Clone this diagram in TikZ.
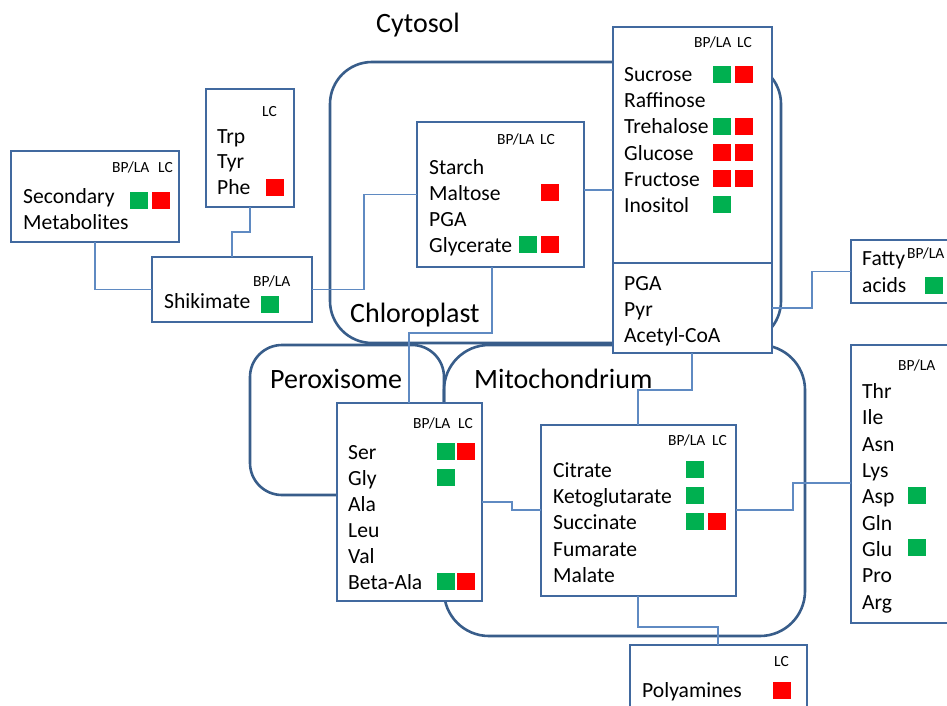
\documentclass[tikz,border=0pt]{standalone}
\usepackage{fontspec}
\setmainfont{Carlito}
\definecolor{boxc}{HTML}{41699F}
\definecolor{compc}{HTML}{385D8A}
\definecolor{connc}{HTML}{5F8AC2}
\definecolor{gr}{HTML}{00B050}
\definecolor{rd}{HTML}{FF0000}
\begin{document}
\begin{tikzpicture}[x=1pt,y=-1pt,
  comp/.style={draw=compc,line width=2.6pt,anchor=north west,inner sep=0,outer sep=0},
  box/.style={draw=boxc,line width=1.3pt,fill=white,anchor=north west,inner sep=0,outer sep=0},
  conn/.style={draw=connc,line width=1.1pt},
  itm/.style={anchor=base west,inner sep=0,font=\fontsize{21.6}{21.6}\selectfont},
  hdr/.style={anchor=base west,inner sep=0,font=\fontsize{15.5}{15.5}\selectfont},
  ttl/.style={anchor=base west,inner sep=0,font=\fontsize{28}{28}\selectfont},
  sqg/.style={fill=gr,draw=none,minimum width=18pt,minimum height=17pt,inner sep=0,anchor=south west},
  sqr/.style={fill=rd,draw=none,minimum width=18pt,minimum height=17pt,inner sep=0,anchor=south west}]
\clip (0,0) rectangle (947,706);
\fill[white] (0,0) rectangle (947,706);
% compartments
\node[comp,rounded corners=42pt,minimum width=451pt,minimum height=281pt] (chl) at (330,62) {};
\node[comp,rounded corners=32pt,minimum width=194pt,minimum height=150pt] (per) at (250,345) {};
\node[comp,rounded corners=45pt,minimum width=361pt,minimum height=291pt] (mit) at (444,345) {};
% boxes
\node[box,minimum width=168pt,minimum height=91pt] (secm) at (11,151) {};
\node[box,minimum width=88pt,minimum height=118pt] (trp) at (206,89) {};
\node[box,minimum width=160pt,minimum height=65pt] (shik) at (152,257) {};
\node[box,minimum width=167pt,minimum height=145pt] (starch) at (417,122) {};
\node[box,minimum width=159pt,minimum height=236pt] (suc) at (613,27) {};
\node[box,minimum width=159pt,minimum height=90pt] (pga) at (613,263) {};
\node[box,minimum width=150pt,minimum height=63pt] (fat) at (851,240) {};
\node[box,minimum width=150pt,minimum height=278pt] (amino) at (851,345) {};
\node[box,minimum width=145pt,minimum height=198pt] (ser) at (337,403) {};
\node[box,minimum width=195pt,minimum height=171pt] (cit) at (541,425) {};
\node[box,minimum width=177pt,minimum height=100pt] (poly) at (630,645) {};
% connectors
\draw[conn] (secm.south -| 95,0) |- (shik.west);
\draw[conn] (trp.south -| 250,0) |- (232,232) -- (shik.north -| 232,0);
\draw[conn] (shik.east) -| (364,0 |- starch.west) -- (starch.west);
\draw[conn] (starch.east |- 0,190) -- (suc.west |- 0,190);
\draw[conn] (starch.south -| 492,0) |- (409,333) -- (ser.north -| 409,0);
\draw[conn] (pga.south -| 692,0) |- (638,390) -- (cit.north -| 638,0);
\draw[conn] (pga.east |- 0,308) -| (812,0 |- fat.west) -- (fat.west);
\draw[conn] (ser.east |- 0,502) -| (512,510) -- (cit.west |- 0,510);
\draw[conn] (cit.east |- 0,510) -| (793,483) -- (amino.west |- 0,483);
\draw[conn] (cit.south -| 638,0) |- (718,627) -- (poly.north -| 718,0);
% titles
\node[ttl,anchor=base] (tcyt) at (418,33) {Cytosol};
\node[ttl] (tchl) at (350,322) {Chloroplast};
\node[ttl] (tper) at (270,388) {Peroxisome};
\node[ttl] (tmit) at (474,388) {Mitochondrium};
% secondary metabolites
\node[hdr] (h1a) at (112,172) {BP/LA};
\node[hdr] (h1b) at (158,172) {LC};
\node[itm] (t1a) at (23,203) {Secondary};
\node[itm] (t1b) at (23,229) {Metabolites};
\node[sqg] (s1a) at (130,209) {};
\node[sqr] (s1b) at (152,209) {};
% trp
\node[hdr] (h2) at (262,117) {LC};
\node[itm] (t2a) at (217,143) {Trp};
\node[itm] (t2b) at (217,168) {Tyr};
\node[itm] (t2c) at (217,194) {Phe};
\node[sqr] (s2) at (266,196) {};
% shikimate
\node[hdr] (h3) at (253,286) {BP/LA};
\node[itm] (t3) at (164,308) {Shikimate};
\node[sqg] (s3) at (261,313) {};
% starch
\node[hdr] (h4a) at (497,144) {BP/LA};
\node[hdr] (h4b) at (540,144) {LC};
\node[itm] (t4a) at (429,174) {Starch};
\node[itm] (t4b) at (429,200) {Maltose};
\node[itm] (t4c) at (429,226) {PGA};
\node[itm] (t4d) at (429,252) {Glycerate};
\node[sqr] (s4a) at (541,201) {};
\node[sqg] (s4b) at (519,253) {};
\node[sqr] (s4c) at (541,253) {};
% sucrose
\node[hdr] (h5a) at (694,48) {BP/LA};
\node[hdr] (h5b) at (737,48) {LC};
\node[itm] (t5a) at (624,82) {Sucrose};
\node[itm] (t5b) at (624,108) {Raffinose};
\node[itm] (t5c) at (624,134) {Trehalose};
\node[itm] (t5d) at (624,160) {Glucose};
\node[itm] (t5e) at (624,186) {Fructose};
\node[itm] (t5f) at (624,212) {Inositol};
\node[sqg] (s5a) at (713,83) {};
\node[sqr] (s5b) at (735,83) {};
\node[sqg] (s5c) at (713,135) {};
\node[sqr] (s5d) at (735,135) {};
\node[sqr] (s5e) at (713,161) {};
\node[sqr] (s5f) at (735,161) {};
\node[sqr] (s5g) at (713,187) {};
\node[sqr] (s5h) at (735,187) {};
\node[sqg] (s5i) at (713,213) {};
\node[itm] (t6a) at (624,290) {PGA};
\node[itm] (t6b) at (624,316) {Pyr};
\node[itm] (t6c) at (624,342) {Acetyl-CoA};
% fatty acids
\node[hdr] (h7) at (907,258) {BP/LA};
\node[itm] (t7a) at (862,265) {Fatty};
\node[itm] (t7b) at (862,292) {acids};
\node[sqg] (s7) at (925,294) {};
% amino acids
\node[hdr] (h8) at (898,370) {BP/LA};
\node[itm] (t8a) at (862,398) {Thr};
\node[itm] (t8b) at (862,424) {Ile};
\node[itm] (t8c) at (862,451) {Asn};
\node[itm] (t8d) at (862,477) {Lys};
\node[itm] (t8e) at (862,503) {Asp};
\node[itm] (t8f) at (862,530) {Gln};
\node[itm] (t8g) at (862,556) {Glu};
\node[itm] (t8h) at (862,582) {Pro};
\node[itm] (t8i) at (862,609) {Arg};
\node[sqg] (s8a) at (908,504) {};
\node[sqg] (s8b) at (908,556) {};
% ser
\node[hdr] (h9a) at (413,428) {BP/LA};
\node[hdr] (h9b) at (458,428) {LC};
\node[itm] (t9a) at (348,459) {Ser};
\node[itm] (t9b) at (348,485) {Gly};
\node[itm] (t9c) at (348,511) {Ala};
\node[itm] (t9d) at (348,537) {Leu};
\node[itm] (t9e) at (348,563) {Val};
\node[itm] (t9f) at (348,589) {Beta-Ala};
\node[sqg] (s9a) at (437,460) {};
\node[sqr] (s9b) at (457,460) {};
\node[sqg] (s9c) at (437,486) {};
\node[sqg] (s9d) at (437,590) {};
\node[sqr] (s9e) at (457,590) {};
% citrate
\node[hdr] (h10a) at (668,445) {BP/LA};
\node[hdr] (h10b) at (712,445) {LC};
\node[itm] (t10a) at (553,477) {Citrate};
\node[itm] (t10b) at (553,503) {Ketoglutarate};
\node[itm] (t10c) at (553,529) {Succinate};
\node[itm] (t10d) at (553,556) {Fumarate};
\node[itm] (t10e) at (553,582) {Malate};
\node[sqg] (s10a) at (686,478) {};
\node[sqg] (s10b) at (686,504) {};
\node[sqg] (s10c) at (686,530) {};
\node[sqr] (s10d) at (708,530) {};
% polyamines
\node[hdr] (h11) at (774,666) {LC};
\node[itm] (t11) at (642,697) {Polyamines};
\node[sqr] (s11) at (773,699) {};
\end{tikzpicture}
\end{document}
